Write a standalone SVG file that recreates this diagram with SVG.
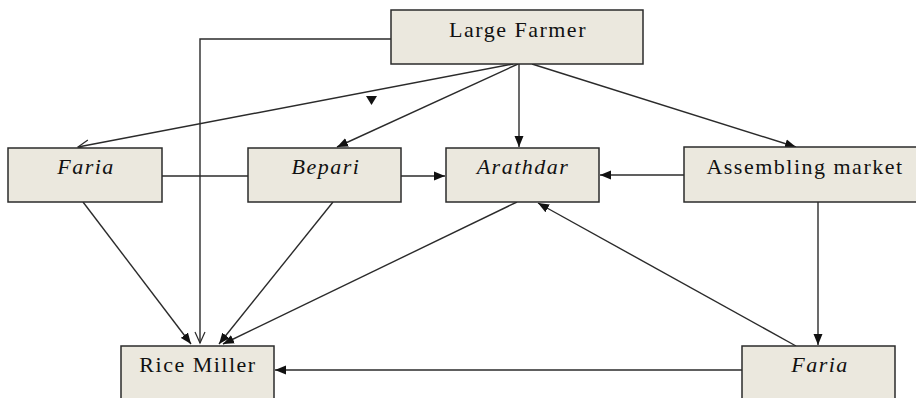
<svg xmlns="http://www.w3.org/2000/svg" width="916" height="398" viewBox="0 0 916 398">
  <defs>
    <style>
      .box { fill: #ebe8de; stroke: #2b2b2b; stroke-width: 1.5; }
      .lbl { font-family: "Liberation Serif", "Times New Roman", serif; font-size: 22px; letter-spacing: 1.5px; fill: #111111; text-anchor: middle; }
      .it { font-style: italic; }
      .edge { fill: none; stroke: #2b2b2b; stroke-width: 1.4; }
      .solid { marker-end: url(#arrowFilled); }
      .open { marker-end: url(#arrowOpen); }
    </style>
    <marker id="arrowFilled" markerUnits="userSpaceOnUse" markerWidth="12" markerHeight="10" refX="11" refY="5" orient="auto">
      <path d="M0,0.5 L11,5 L0,9.5 Z" fill="#111111"/>
    </marker>
    <marker id="arrowOpen" markerUnits="userSpaceOnUse" markerWidth="14" markerHeight="12" refX="12" refY="6" orient="auto">
      <path d="M1,1 L12,6 L1,11" fill="none" stroke="#2b2b2b" stroke-width="1.2"/>
    </marker>
  </defs>

  <rect width="916" height="398" fill="#ffffff"/>

  <g id="connectors">
    <!-- Large Farmer straight to Rice Miller -->
    <polyline class="edge open" points="391,39 200,39 200,343"/>
    <!-- Large Farmer fan-out -->
    <line class="edge open" x1="513" y1="64" x2="78" y2="147"/>
    <line class="edge solid" x1="518" y1="64" x2="337" y2="147"/>
    <line class="edge solid" x1="519" y1="64" x2="519" y2="147"/>
    <line class="edge solid" x1="532" y1="64" x2="796" y2="147"/>
    <!-- loose arrowhead on the Faria branch -->
    <polygon points="366,96 377,96 371.5,105" fill="#111111"/>
    <!-- middle row -->
    <line class="edge" x1="162" y1="176" x2="248" y2="176"/>
    <line class="edge solid" x1="401" y1="176" x2="445" y2="176"/>
    <line class="edge solid" x1="684" y1="175" x2="600" y2="175"/>
    <!-- into Rice Miller -->
    <line class="edge solid" x1="83" y1="202" x2="191" y2="344"/>
    <line class="edge solid" x1="333" y1="202" x2="219" y2="344"/>
    <line class="edge solid" x1="517" y1="202" x2="223" y2="344"/>
    <line class="edge solid" x1="742" y1="370" x2="275" y2="370"/>
    <!-- right column -->
    <line class="edge solid" x1="818" y1="202" x2="818" y2="345"/>
    <line class="edge solid" x1="796" y1="346" x2="538" y2="203"/>
  </g>

  <g id="large-farmer">
    <rect class="box" x="391" y="10" width="252" height="54"/>
    <text class="lbl" x="518" y="37">Large Farmer</text>
  </g>
  <g id="faria-left">
    <rect class="box" x="8" y="148" width="154" height="54"/>
    <text class="lbl it" x="86" y="174">Faria</text>
  </g>
  <g id="bepari">
    <rect class="box" x="248" y="148" width="153" height="54"/>
    <text class="lbl it" x="326" y="174">Bepari</text>
  </g>
  <g id="arathdar">
    <rect class="box" x="446" y="148" width="153" height="54"/>
    <text class="lbl it" x="523" y="174">Arathdar</text>
  </g>
  <g id="assembling-market">
    <rect class="box" x="684" y="147" width="240" height="55"/>
    <text class="lbl" x="805" y="174">Assembling market</text>
  </g>
  <g id="rice-miller">
    <rect class="box" x="121" y="346" width="153" height="60"/>
    <text class="lbl" x="198" y="372">Rice Miller</text>
  </g>
  <g id="faria-right">
    <rect class="box" x="742" y="346" width="153" height="60"/>
    <text class="lbl it" x="820" y="372">Faria</text>
  </g>
</svg>
